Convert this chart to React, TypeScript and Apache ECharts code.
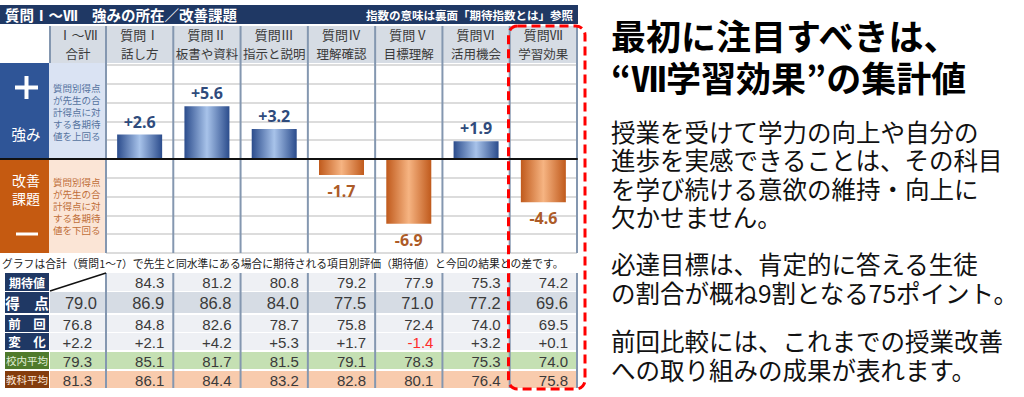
import React, { useEffect, useRef } from 'react';
import * as echarts from 'echarts';

// ---------- data ----------
const questionCodes = ['質問Ⅰ', '質問Ⅱ', '質問Ⅲ', '質問Ⅳ', '質問Ⅴ', '質問Ⅵ', '質問Ⅶ'];
const questionNames = ['話し方', '板書や資料', '指示と説明', '理解確認', '目標理解', '活用機会', '学習効果'];
const totalHeader = ['Ⅰ～Ⅶ', '合計'];
const gapValues = [2.6, 5.6, 3.2, -1.7, -6.9, 1.9, -4.6];

// table rows: index 0 = Ⅰ～Ⅶ合計, 1..7 = 質問Ⅰ..Ⅶ
const expectedRow: (number | null)[] = [null, 84.3, 81.2, 80.8, 79.2, 77.9, 75.3, 74.2];
const scoreRow = [79.0, 86.9, 86.8, 84.0, 77.5, 71.0, 77.2, 69.6];
const previousRow = [76.8, 84.8, 82.6, 78.7, 75.8, 72.4, 74.0, 69.5];
const changeRow = [2.2, 2.1, 4.2, 5.3, 1.7, -1.4, 3.2, 0.1];
const schoolAvgRow = [79.3, 85.1, 81.7, 81.5, 79.1, 78.3, 75.3, 74.0];
const subjectAvgRow = [81.3, 86.1, 84.4, 83.2, 82.8, 80.1, 76.4, 75.8];
const rowLabels = ['期待値', '得　点', '前　回', '変　化', '校内平均', '教科平均'];

const Y_MIN = -10;
const Y_MAX = 10;
const Y_STEP = 2;

const titleText = '質問Ⅰ～Ⅶ　強みの所在／改善課題';
const noteText = '指数の意味は裏面「期待指数とは」参照';
const footnote = 'グラフは合計（質問1～7）で先生と同水準にある場合に期待される項目別評価（期待値）と今回の結果との差です。';
const upperBlockLines = ['質問別得点', 'が先生の合', '計得点に対', 'する各期待', '値を上回る'];
const lowerBlockLines = ['質問別得点', 'が先生の合', '計得点に対', 'する各期待', '値を下回る'];
const headline = ['最初に注目すべきは、', '“Ⅶ学習効果”の集計値'];
const paragraphs = [
  ['授業を受けて学力の向上や自分の', '進歩を実感できることは、その科目', 'を学び続ける意欲の維持・向上に', '欠かせません。'],
  ['必達目標は、肯定的に答える生徒', 'の割合が概ね9割となる75ポイント。'],
  ['前回比較には、これまでの授業改善', 'への取り組みの成果が表れます。'],
];

// ---------- layout ----------
const CH_LEFT = 106;
const CH_RIGHT = 577;
const CH_TOP = 65;
const CH_BOTTOM = 253;
const COL_W = (CH_RIGHT - CH_LEFT) / 7;
const ZERO_Y = CH_TOP + (Y_MAX / (Y_MAX - Y_MIN)) * (CH_BOTTOM - CH_TOP);
const JP = "'Noto Sans CJK JP', 'Noto Sans', sans-serif";
const NUM = "'Liberation Sans', Arial, sans-serif";
const font = (size: number, weight: string | number = 'normal', fam = JP) => `${weight} ${size}px ${fam}`;

const colLeft = (i: number) => (i === 0 ? 50 : CH_LEFT + (i - 1) * COL_W);
const colRight = (i: number) => (i === 0 ? CH_LEFT : CH_LEFT + i * COL_W);

const BLUE_GRAD = () =>
  new echarts.graphic.LinearGradient(0, 0, 1, 0, [
    { offset: 0, color: '#2b4c8c' },
    { offset: 0.5, color: '#a8c3ea' },
    { offset: 1, color: '#2b4c8c' },
  ]);
const ORANGE_GRAD = () =>
  new echarts.graphic.LinearGradient(0, 0, 1, 0, [
    { offset: 0, color: '#c05a1c' },
    { offset: 0.5, color: '#f6b482' },
    { offset: 1, color: '#c05a1c' },
  ]);

function buildGraphics() {
  const g: any[] = [];
  const rect = (x: number, y: number, w: number, h: number, fill: string, z = 1, extra: any = {}) =>
    g.push({ type: 'rect', z, shape: { x, y, width: w, height: h, ...(extra.shape || {}) }, style: { fill, ...(extra.style || {}) } });
  const text = (t: string, x: number, y: number, f: string, fill: string, align = 'left', z = 10, extra: any = {}) =>
    g.push({ type: 'text', z, style: { text: t, x, y, font: f, fill, textAlign: align, textVerticalAlign: 'middle', ...extra } });
  const line = (x1: number, y1: number, x2: number, y2: number, stroke: string, lw: number, z = 5) =>
    g.push({ type: 'line', z, shape: { x1, y1, x2, y2 }, style: { stroke, lineWidth: lw } });

  // title bar
  rect(0, 5, CH_RIGHT + 1, 19, '#1f3864');
  text(titleText, 5, 14.5, font(14.5, 'bold'), '#ffffff');
  text(noteText, 573, 14.5, font(11.5, 'bold'), '#ffffff', 'right');

  // header cells
  rect(50, 26, CH_RIGHT - 50, 37, '#d6dce4');
  for (let i = 0; i < 8; i++) {
    const cx = (colLeft(i) + colRight(i)) / 2;
    const l1 = i === 0 ? totalHeader[0] : questionCodes[i - 1];
    const l2 = i === 0 ? totalHeader[1] : questionNames[i - 1];
    text(l1, cx, 34.5, font(13), '#3a3a3a', 'center');
    text(l2, cx, 53, font(12.5), '#3a3a3a', 'center');
  }

  // left blocks
  rect(0, 63, 49, ZERO_Y - 63, '#2f5597');
  rect(49, 63, CH_LEFT - 49, ZERO_Y - 63, '#dae3f3');
  rect(0, ZERO_Y, 49, CH_BOTTOM - ZERO_Y, '#c55a11');
  rect(49, ZERO_Y, CH_LEFT - 49, CH_BOTTOM - ZERO_Y, '#fbe5d6');
  rect(15, 85.5, 23, 4, '#ffffff', 3);
  rect(24.5, 76, 4, 23, '#ffffff', 3);
  text('強み', 26, 133, font(14.5), '#ffffff', 'center');
  text('改善', 26, 179.5, font(14), '#ffffff', 'center');
  text('課題', 26, 197.5, font(14), '#ffffff', 'center');
  rect(16, 232.5, 22, 3, '#ffffff', 3);
  upperBlockLines.forEach((t, k) => text(t, 53, 88 + k * 12, font(9.5), '#56739f'));
  lowerBlockLines.forEach((t, k) => text(t, 53, 182 + k * 12, font(9.5), '#c06f3a'));
  line(0, ZERO_Y, CH_LEFT, ZERO_Y, '#111111', 2, 6);

  // vertical separators (header + chart, table)
  for (let i = 0; i <= 7; i++) {
    const x = CH_LEFT + i * COL_W;
    line(x, 26, x, CH_BOTTOM, '#8497b0', 2, 4);
    line(x, 273, x, 388, '#8497b0', 2, 4);
  }
  line(50, 26, 50, 63, '#8497b0', 2, 4);

  // footnote
  text(footnote, 2, 263, font(10.8), '#222222');

  // table
  const rowTops = [273, 292, 315, 333, 352, 371];
  const rowHs = [18, 21, 17, 17, 17, 17];
  const labelBg = ['#1f3864', '#1f3864', '#1f3864', '#1f3864', '#4f7a2c', '#843c0c'];
  const labelFg = ['#ffffff', '#ffffff', '#ffffff', '#ffffff', '#e2f0d9', '#fbe5d6'];
  const labelFont = [font(12, 'bold'), font(14.5, 'bold'), font(12.5, 'bold'), font(12.5, 'bold'), font(10.5), font(10.5)];
  const cellBg = ['#eef0f4', '#d6dce4', '#eef0f4', '#eef0f4', '#c5e0b3', '#f8cbad'];
  const rows: (number | null)[][] = [expectedRow, scoreRow, previousRow, changeRow, schoolAvgRow, subjectAvgRow];
  rows.forEach((vals, r) => {
    const y = rowTops[r];
    const h = rowHs[r];
    const cy = y + h / 2;
    rect(5, y, 44, h, labelBg[r]);
    text(rowLabels[r], 27, cy, labelFont[r], labelFg[r], 'center');
    rect(50, y, CH_RIGHT - 50, h, cellBg[r]);
    vals.forEach((v, i) => {
      if (v === null) {
        rect(50, y, CH_LEFT - 50, h, '#ffffff', 2);
        line(50, y + h, CH_LEFT, y, '#111111', 1.5, 6);
        return;
      }
      const isChange = r === 3;
      const s = isChange ? (v > 0 ? '+' : '') + v.toFixed(1) : v.toFixed(1);
      const color = isChange && v < 0 ? '#ff2b2b' : '#3a3a3a';
      const size = r === 1 ? 16.5 : 15;
      const rx = i === 0 ? (r === 1 ? 97 : 92) : colRight(i) - 9;
      text(s, rx, cy + 0.5, font(size, 'normal', NUM), color, 'right');
    });
  });

  // red dashed highlight
  g.push({
    type: 'rect',
    z: 100,
    shape: { x: 508.5, y: 26, width: 76.5, height: 363, r: 9 },
    style: { fill: 'none', stroke: '#ff0000', lineWidth: 3, lineDash: [9, 5] },
  });

  // right side text
  const headY = [34, 76];
  headline.forEach((t, k) => text(t, 611, headY[k], font(35, 'bold'), '#000000'));
  const paraY = [[131, 159.5, 188, 216.5], [263.5, 292.5], [340, 369]];
  paragraphs.forEach((p, pi) =>
    p.forEach((t, li) => text(t, 611, paraY[pi][li], font(24.5, 'normal'), '#111111'))
  );
  return g;
}

function buildOption() {
  return {
    animation: false,
    backgroundColor: '#ffffff',
    grid: { left: CH_LEFT, top: CH_TOP, width: CH_RIGHT - CH_LEFT, height: CH_BOTTOM - CH_TOP, containLabel: false },
    xAxis: {
      type: 'category',
      data: questionCodes,
      axisLine: { show: true, onZero: true, lineStyle: { color: '#111111', width: 2 } },
      axisTick: { show: false },
      axisLabel: { show: false },
      splitLine: { show: false },
      z: 5,
    },
    yAxis: {
      type: 'value',
      min: Y_MIN,
      max: Y_MAX,
      interval: Y_STEP,
      axisLine: { show: false },
      axisTick: { show: false },
      axisLabel: { show: false },
      splitLine: { show: true, lineStyle: { color: '#d0d0d0', width: 1.5 } },
    },
    series: [
      {
        type: 'bar',
        barWidth: 45,
        z: 3,
        data: gapValues.map((v) => ({
          value: v,
          itemStyle: { color: v >= 0 ? BLUE_GRAD() : ORANGE_GRAD() },
          label: {
            show: true,
            position: v >= 0 ? 'top' : 'bottom',
            distance: v >= 0 ? 5 : 8,
            color: v >= 0 ? '#2f4b7c' : '#ad5b28',
            fontSize: 16,
            fontWeight: 'bold',
            fontFamily: "'Noto Sans', 'Liberation Sans', sans-serif",
            formatter: () => (v > 0 ? '+' : '') + v.toFixed(1),
          },
        })),
      },
    ],
    graphic: { elements: buildGraphics() },
  };
}

export default function App() {
  const ref = useRef<HTMLDivElement>(null);
  useEffect(() => {
    if (!ref.current) return;
    const chart = echarts.init(ref.current, null, { renderer: 'svg' });
    chart.setOption(buildOption() as any);
    return () => chart.dispose();
  }, []);
  return (
    <div
      ref={ref}
      style={{ position: 'absolute', left: 0, top: 0, width: 1024, height: 397, background: '#ffffff' }}
    />
  );
}
